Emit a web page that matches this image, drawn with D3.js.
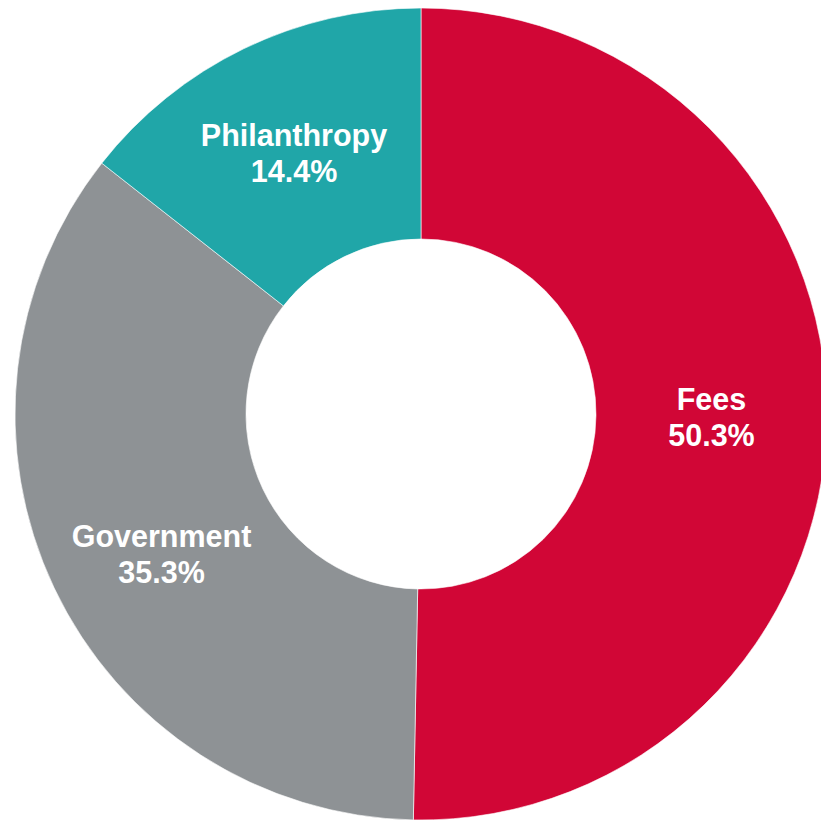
<!DOCTYPE html>
<html lang="en">
<head>
    <meta charset="UTF-8"/>
    <title>Income sources</title>
    <script src="https://d3js.org/d3.v7.min.js"></script>
    <style>
        body { margin: 0; background: #fff; }
        svg { display: block; }
    </style>
</head>
<body>
    <script>
        var categories = ["Fees", "Government", "Philanthropy"];
        var shares = [50.3, 35.3, 14.4];
        var colours = ["#D10636", "#8E9295", "#20A6A8"];

        var w = 821;
        var h = 821;
        var cx = 421;
        var cy = 414;
        var outerR = 406;
        var innerR = 175;

        var data = categories.map(function(c, i) {
            return { name: c, value: shares[i], colour: colours[i] };
        });

        var svg = d3.select("body")
            .append("svg")
            .attr("width", w)
            .attr("height", h);

        var g = svg.append("g")
            .attr("transform", "translate(" + cx + "," + cy + ")");

        var pie = d3.pie()
            .value(function(d) { return d.value; })
            .sort(null);

        var arc = d3.arc()
            .innerRadius(innerR)
            .outerRadius(outerR);

        var slices = g.selectAll("path")
            .data(pie(data))
            .enter()
            .append("path")
            .attr("d", arc)
            .attr("fill", function(d) { return d.data.colour; })
            .attr("stroke", "#fff")
            .attr("stroke-width", 0.6);

        // labels sit on the arc centroid; Government is pushed down a little
        var nudge = { "Government": [3, 15] };

        var labels = g.selectAll("text.lbl")
            .data(pie(data))
            .enter()
            .append("text")
            .attr("class", "lbl")
            .attr("text-anchor", "middle")
            .attr("font-family", "Liberation Sans, Arial, sans-serif")
            .attr("font-weight", "bold")
            .attr("font-size", "30.5px")
            .attr("fill", "#fff")
            .attr("transform", function(d) {
                var c = arc.centroid(d);
                var n = nudge[d.data.name] || [0, 0];
                return "translate(" + (c[0] + n[0]) + "," + (c[1] + n[1]) + ")";
            });

        labels.append("tspan")
            .attr("x", 0)
            .attr("y", -7)
            .text(function(d) { return d.data.name; });

        labels.append("tspan")
            .attr("x", 0)
            .attr("y", 29)
            .text(function(d) { return d.data.value.toFixed(1) + "%"; });
    </script>
</body>
</html>
